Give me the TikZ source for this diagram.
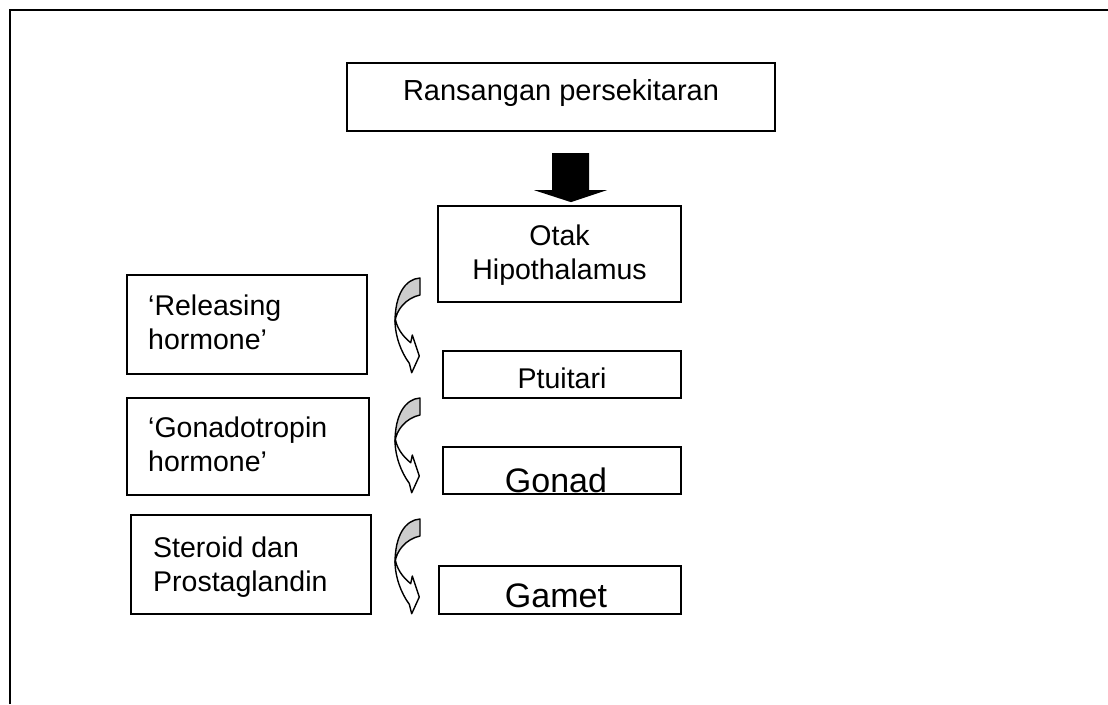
\documentclass[tikz,border=0pt]{standalone}
\usepackage{fontspec}
\setmainfont{Liberation Sans}
\usetikzlibrary{fit}
\begin{document}
\begin{tikzpicture}[x=1pt,y=-1pt,
  box/.style={draw=black, line width=1.7pt, inner sep=0pt},
  lbl/.style={inner sep=0pt, font=\fontsize{28.5}{33.3}\selectfont},
  toplbl/.style={inner sep=0pt, font=\fontsize{29}{34}\selectfont},
  biglbl/.style={inner sep=0pt, font=\fontsize{34}{39}\selectfont},
  greyband/.style={draw=black, line width=1.4pt, fill=black!20, line join=round},
  whiteband/.style={draw=black, line width=1.4pt, fill=white, line join=round},
  curvarrow/.pic={
    \draw[greyband] (0,0) .. controls (-15,1) and (-25,17) .. (-25,44)
        .. controls (-24,32) and (-14,20) .. (0,17) -- cycle;
    \draw[whiteband] (-25,42) .. controls (-25,58) and (-19,74) .. (-10.7,85.3)
        -- (-8.3,94.7) -- (-0.7,78) -- (-7.7,57) -- (-9.3,64.7)
        .. controls (-15,60) and (-22,53) .. (-24.5,42) -- cycle;
  }]
\useasboundingbox (0,0) rectangle (1108,704);
\draw[line width=2.2pt] (10,704) -- (10,10) -- (1108,10);

% boxes
\node[box, fit={(347,63) (775,131)}] (ran) {};
\node[box, fit={(438,206) (681,302)}] (hip) {};
\node[box, fit={(127,275) (367,374)}] (rel) {};
\node[box, fit={(443,351) (681,398)}] (ptu) {};
\node[box, fit={(127,398) (369,495)}] (gtr) {};
\node[box, fit={(443,447) (681,494)}] (gon) {};
\node[box, fit={(131,515) (371,614)}] (ste) {};
\node[box, fit={(439,566) (681,614)}] (gam) {};

% texts (base anchor = baseline of the last line)
\node[toplbl, anchor=base] (rantxt) at (561,100) {Ransangan persekitaran};
\node[lbl, anchor=base, align=center] (hiptxt) at (559.5,279) {Otak\\Hipothalamus};
\node[lbl, anchor=base west, align=left] (reltxt) at (148,349) {‘Releasing\\hormone’};
\node[lbl, anchor=base] (ptutxt) at (562,388) {Ptuitari};
\node[lbl, anchor=base west, align=left] (gtrtxt) at (148,471) {‘Gonadotropin\\hormone’};
\node[biglbl, anchor=base] (gontxt) at (556,492) {Gonad};
\node[lbl, anchor=base west, align=left] (stetxt) at (153,591) {Steroid dan\\Prostaglandin};
\node[biglbl, anchor=base] (gamtxt) at (556,607) {Gamet};

% block arrow from Ransangan to Hipothalamus
\coordinate (bt) at (hip.north -| 571,0);
\fill[black, shift={(bt)}] (-19,-52) -- (18,-52) -- (18,-15) -- (36,-15) -- (0,-3)
  -- (-37,-15) -- (-19,-15) -- cycle;

% curved arrows
\coordinate (c1) at (420,278);
\coordinate (c2) at (420,398);
\coordinate (c3) at (420,519);
\pic at (c1) {curvarrow};
\pic at (c2) {curvarrow};
\pic at (c3) {curvarrow};
\end{tikzpicture}
\end{document}
